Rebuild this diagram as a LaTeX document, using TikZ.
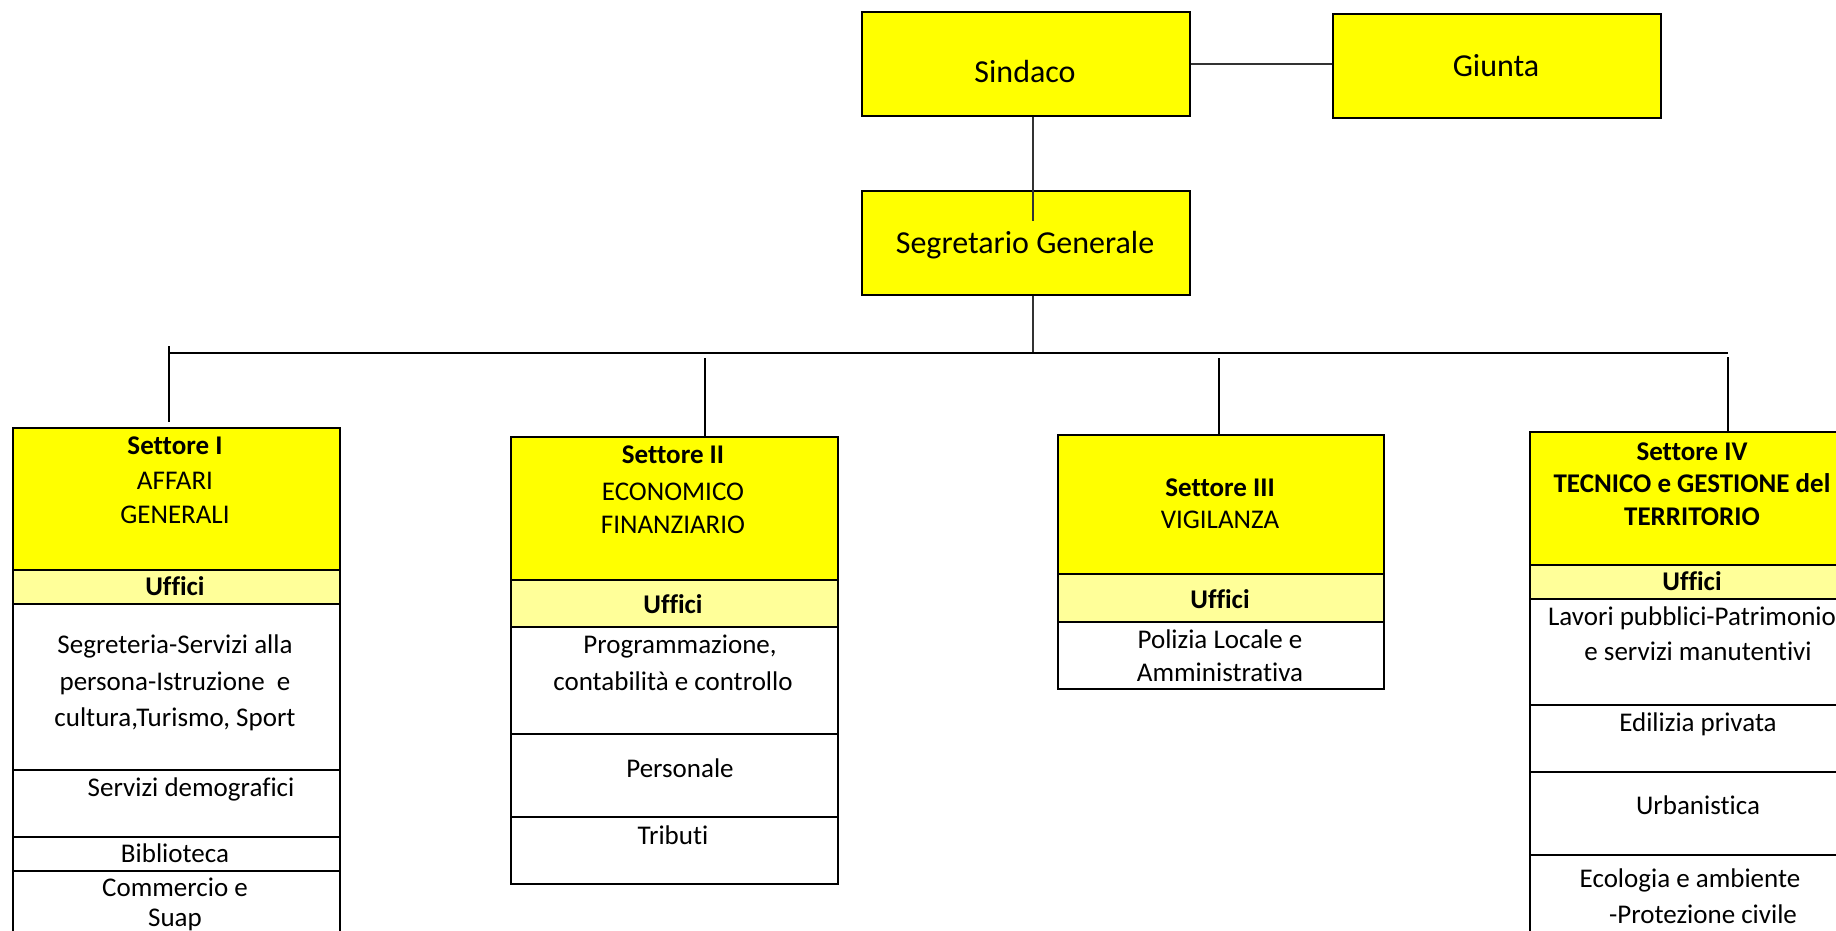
\documentclass[tikz,border=0pt]{standalone}
\usepackage{fontspec}
\setmainfont{Carlito}[Ligatures={NoCommon}]
\definecolor{hdr}{HTML}{FFFF00}
\definecolor{uff}{HTML}{FFFF99}
\begin{document}
\begin{tikzpicture}[x=1pt,y=-1pt,
  box/.style={draw=black, line width=2pt, inner sep=0pt, anchor=north west},
  topbox/.style={box, fill=hdr, minimum width=328pt, minimum height=104pt},
  txt/.style={inner sep=0pt, anchor=base, font=\fontsize{27}{32}\selectfont},
  ttop/.style={inner sep=0pt, anchor=base, font=\fontsize{32}{38}\selectfont},
  conn/.style={draw=black, line width=1.6pt},
  thin/.style={draw=black!80, line width=1.2pt}]
\clip (0,0) rectangle (1836,930);
\fill[white] (0,0) rectangle (1836,930);

% top boxes
\node[topbox] (sindaco) at (861,11) {};
\node[ttop] (sindacoT) at (1025,82) {Sindaco};
\node[topbox, minimum height=104pt] (giunta) at (1332,13) {};
\node[ttop] (giuntaT) at (1496,76) {Giunta};
\node[topbox] (segr) at (861,190) {};
\node[ttop] (segrT) at (1025,253) {Segretario Generale};

% coordinates for connectors
\coordinate (spine) at (1033,221);
\coordinate (hl) at (169,353);
\coordinate (hr) at (1728,353);
\coordinate (t1) at (169,346);
\coordinate (b1) at (169,422);
\coordinate (t2) at (705,358);
\coordinate (t3) at (1219,358);
\coordinate (t4) at (1728,357);

% Settore I
\node[box, fill=hdr, minimum width=327pt, minimum height=142pt] (s1h) at (12,427) {};
\node[box, fill=uff, minimum width=327pt, minimum height=34pt] (s1u) at (12,569) {};
\node[box, fill=white, minimum width=327pt, minimum height=166pt] (s1o1) at (12,603) {};
\node[box, fill=white, minimum width=327pt, minimum height=67pt] (s1o2) at (12,769) {};
\node[box, fill=white, minimum width=327pt, minimum height=34pt] (s1o3) at (12,836) {};
\node[box, fill=white, minimum width=327pt, minimum height=100pt] (s1o4) at (12,870) {};
\node[txt] (s1a) at (175,454) {\bfseries Settore I};
\node[txt] (s1b) at (175,489) {AFFARI};
\node[txt] (s1c) at (175,523) {GENERALI};
\node[txt] (s1d) at (175,595) {\bfseries Uffici};
\node[txt] (s1e) at (175,653) {Segreteria-Servizi alla};
\node[txt] (s1f) at (175,690) {persona-Istruzione\ \ e};
\node[txt] (s1g) at (175,726) {cultura,Turismo, Sport};
\node[txt] (s1h2) at (191,796) {Servizi demografici};
\node[txt] (s1i) at (175,862) {Biblioteca};
\node[txt] (s1j) at (175,896) {Commercio e};
\node[txt] (s1k) at (175,926) {Suap};

% Settore II
\node[box, fill=hdr, minimum width=327pt, minimum height=143pt] (s2h) at (510,436) {};
\node[box, fill=uff, minimum width=327pt, minimum height=47pt] (s2u) at (510,579) {};
\node[box, fill=white, minimum width=327pt, minimum height=107pt] (s2o1) at (510,626) {};
\node[box, fill=white, minimum width=327pt, minimum height=83pt] (s2o2) at (510,733) {};
\node[box, fill=white, minimum width=327pt, minimum height=67pt] (s2o3) at (510,816) {};
\node[txt] (s2a) at (673,463) {\bfseries Settore II};
\node[txt] (s2b) at (673,500) {ECONOMICO};
\node[txt] (s2c) at (673,533) {FINANZIARIO};
\node[txt] (s2d) at (673,613) {\bfseries Uffici};
\node[txt] (s2e) at (680,653) {Programmazione,};
\node[txt] (s2f) at (673,690) {contabilità e controllo};
\node[txt] (s2g) at (680,777) {Personale};
\node[txt] (s2h2) at (673,844) {Tributi};

% Settore III
\node[box, fill=hdr, minimum width=326pt, minimum height=139pt] (s3h) at (1057,434) {};
\node[box, fill=uff, minimum width=326pt, minimum height=48pt] (s3u) at (1057,573) {};
\node[box, fill=white, minimum width=326pt, minimum height=67pt] (s3o1) at (1057,621) {};
\node[txt] (s3a) at (1220,496) {\bfseries Settore III};
\node[txt] (s3b) at (1220,528) {VIGILANZA};
\node[txt] (s3d) at (1220,608) {\bfseries Uffici};
\node[txt] (s3e) at (1220,648) {Polizia Locale e};
\node[txt] (s3f) at (1220,681) {Amministrativa};

% Settore IV
\node[box, fill=hdr, minimum width=327pt, minimum height=133pt] (s4h) at (1529,431) {};
\node[box, fill=uff, minimum width=327pt, minimum height=34pt] (s4u) at (1529,564) {};
\node[box, fill=white, minimum width=327pt, minimum height=106pt] (s4o1) at (1529,598) {};
\node[box, fill=white, minimum width=327pt, minimum height=67pt] (s4o2) at (1529,704) {};
\node[box, fill=white, minimum width=327pt, minimum height=83pt] (s4o3) at (1529,771) {};
\node[box, fill=white, minimum width=327pt, minimum height=100pt] (s4o4) at (1529,854) {};
\node[txt] (s4a) at (1692,460) {\bfseries Settore IV};
\node[txt] (s4b) at (1692,492) {\bfseries TECNICO e GESTIONE del};
\node[txt] (s4c) at (1692,525) {\bfseries TERRITORIO};
\node[txt] (s4d) at (1692,590) {\bfseries Uffici};
\node[txt] (s4e) at (1692,625) {Lavori pubblici-Patrimonio};
\node[txt] (s4f) at (1698,660) {e servizi manutentivi};
\node[txt] (s4g) at (1698,731) {Edilizia privata};
\node[txt] (s4h2) at (1698,814) {Urbanistica};
\node[txt] (s4i) at (1690,887) {Ecologia e ambiente};
\node[txt] (s4j) at (1703,923) {-Protezione civile};

% connectors
\draw[thin] (sindaco.east) -- (sindaco.east -| giunta.west);
\draw[thin] (sindaco.south -| spine) -- (spine);
\draw[thin] (segr.south -| spine) -- (hl -| spine);
\draw[conn] (hl) -- (hr);
\draw[conn] (t1) -- (b1);
\draw[conn] (t2) -- (t2 |- s2h.north);
\draw[conn] (t3) -- (t3 |- s3h.north);
\draw[conn] (t4) -- (t4 |- s4h.north);
\end{tikzpicture}
\end{document}
